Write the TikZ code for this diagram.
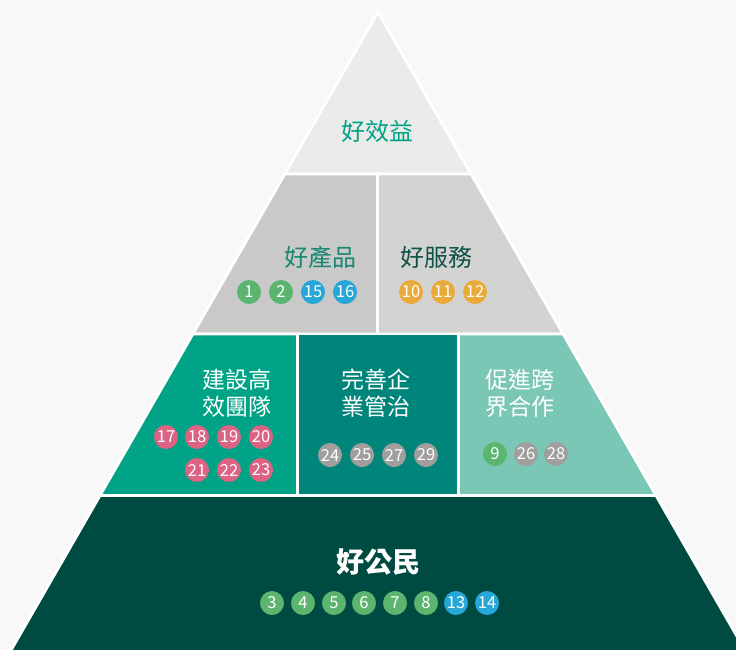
\documentclass[tikz,border=0pt]{standalone}
\usepackage{fontspec}
\setmainfont{Noto Sans CJK TC}
\definecolor{bgc}{HTML}{F8F8F8}
\definecolor{tierA}{HTML}{EBEBE9}
\definecolor{tierBL}{HTML}{C8C9C8}
\definecolor{tierBR}{HTML}{D3D3D1}
\definecolor{tierCL}{HTML}{00A385}
\definecolor{tierCM}{HTML}{00857B}
\definecolor{tierCR}{HTML}{7AC7B5}
\definecolor{tierD}{HTML}{004B41}
\definecolor{txtA}{HTML}{00A385}
\definecolor{txtBL}{HTML}{17876F}
\definecolor{txtBR}{HTML}{0F5247}
\definecolor{cgreen}{HTML}{5CB56F}
\definecolor{cblue}{HTML}{27A7D8}
\definecolor{corange}{HTML}{EAAA3B}
\definecolor{cpink}{HTML}{DC6384}
\definecolor{cgrey}{HTML}{A09F9E}
\tikzset{
  tier/.style={draw=white, line width=2.8pt, line join=miter},
  num/.style={circle, minimum size=24pt, inner sep=0pt, text=white,
    font=\fontsize{16.5}{16.5}\selectfont},
  ng/.style={num, fill=cgreen},
  nb/.style={num, fill=cblue},
  no/.style={num, fill=corange},
  np/.style={num, fill=cpink},
  ny/.style={num, fill=cgrey},
  title/.style={inner sep=0pt, font=\fontsize{24}{24}\selectfont},
  twoline/.style={inner sep=0pt, align=center, text=white,
    font=\fontsize{23}{27}\selectfont},
}
\begin{document}
\begin{tikzpicture}[x=1pt,y=-1pt]
\fill[bgc] (0,0) rectangle (736,649);
\useasboundingbox (0,0) rectangle (736,649);
\begin{scope}
\clip (0,0) rectangle (736,649);
% tier 1
\filldraw[tier, fill=tierA] (378,12) -- (471.15,174) -- (284.85,174) -- cycle;
% tier 2
\filldraw[tier, fill=tierBL] (284.85,174) -- (377.5,174) -- (377.5,334) -- (192.85,334) -- cycle;
\filldraw[tier, fill=tierBR] (377.5,174) -- (471.15,174) -- (563.15,334) -- (377.5,334) -- cycle;
% tier 3
\filldraw[tier, fill=tierCL] (192.85,334) -- (297.5,334) -- (297.5,495.5) -- (100,495.5) -- cycle;
\filldraw[tier, fill=tierCM] (297.5,334) -- (458.5,334) -- (458.5,495.5) -- (297.5,495.5) -- cycle;
\filldraw[tier, fill=tierCR] (458.5,334) -- (563.15,334) -- (656,495.5) -- (458.5,495.5) -- cycle;
% tier 4
\filldraw[tier, fill=tierD] (100,495.5) -- (656,495.5) -- (750.6,660) -- (5.4,660) -- cycle;
\end{scope}

% tier 1 text
\node[title, text=txtA] (t1) at (377,131) {好效益};
% tier 2 text
\node[title, text=txtBL] (t2l) at (320,257) {好產品};
\node[title, text=txtBR] (t2r) at (436,257) {好服務};
\node[ng] (c1) at (249,292) {1};
\node[ng] (c2) at (281,292) {2};
\node[nb] (c15) at (313,292) {15};
\node[nb] (c16) at (345,292) {16};
\node[no] (c10) at (411,292) {10};
\node[no] (c11) at (443,292) {11};
\node[no] (c12) at (475,292) {12};
% tier 3 text
\node[twoline] (t3l) at (237,393.5) {建設高\\效團隊};
\node[twoline] (t3m) at (376,393.5) {完善企\\業管治};
\node[twoline] (t3r) at (520,393.5) {促進跨\\界合作};
\node[np] (c17) at (166,437) {17};
\node[np] (c18) at (197,437) {18};
\node[np] (c19) at (229,437) {19};
\node[np] (c20) at (261,437) {20};
\node[np] (c21) at (197,470) {21};
\node[np] (c22) at (229,470) {22};
\node[np] (c23) at (261,470) {23};
\node[ny] (c24) at (330,455) {24};
\node[ny] (c25) at (362,455) {25};
\node[ny] (c27) at (394,455) {27};
\node[ny] (c29) at (426,455) {29};
\node[ng] (c9) at (495,454) {9};
\node[ny] (c26) at (526,454) {26};
\node[ny] (c28) at (556,454) {28};
% tier 4 text
\node[inner sep=0pt, text=white, font=\fontsize{28}{28}\selectfont\bfseries] (t4) at (378,562) {好公民};
\node[ng] (c3) at (272,603) {3};
\node[ng] (c4) at (303,603) {4};
\node[ng] (c5) at (334,603) {5};
\node[ng] (c6) at (364,603) {6};
\node[ng] (c7) at (395,603) {7};
\node[ng] (c8) at (426,603) {8};
\node[nb] (c13) at (456,603) {13};
\node[nb] (c14) at (487,603) {14};
\end{tikzpicture}
\end{document}
